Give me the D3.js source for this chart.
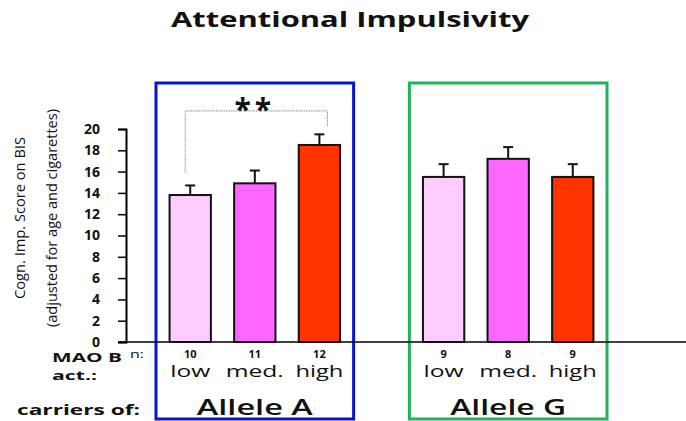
<!DOCTYPE html>
<html>
<head>
<meta charset="utf-8">
<script src="https://cdn.jsdelivr.net/npm/d3@7"></script>
<style>
  body { margin: 0; background: #fff; }
  svg { display: block; }
  text { font-family: 'Open Sans', 'DejaVu Sans', sans-serif; fill: #111; }
</style>
</head>
<body>
<div id="chart"></div>
<script>
'use strict'

// valores
const alleles = ['Allele A', 'Allele G']
const activity = ['low', 'med.', 'high']
const meanA = [13.8, 14.9, 18.5]
const errA = [0.9, 1.2, 1.0]
const meanG = [15.5, 17.2, 15.5]
const errG = [1.2, 1.1, 1.2]
const nA = [10, 11, 12]
const nG = [9, 8, 9]
const yTicks = [0, 2, 4, 6, 8, 10, 12, 14, 16, 18, 20]
const barColors = ['#ffccff', '#ff66ff', '#ff3300']
const boxColors = ['#0a14c8', '#1fb35a']

const rows = []
alleles.forEach((allele, gi) => {
  const means = gi === 0 ? meanA : meanG
  const errs = gi === 0 ? errA : errG
  const ns = gi === 0 ? nA : nG
  activity.forEach((act, i) => {
    rows.push({ allele, act, mean: means[i], err: errs[i], n: ns[i], color: barColors[i] })
  })
})

const width = 686
const height = 421

const svg = d3.select('#chart')
  .append('svg')
  .attr('width', width)
  .attr('height', height)

const yScale = d3.scaleLinear()
  .domain([0, 20])
  .range([342, 129])

const xOuter = d3.scaleBand()
  .domain(alleles)
  .range([156, 607])
  .paddingInner(0.22)
  .paddingOuter(0)

const xInner = d3.scaleBand()
  .domain(activity)
  .range([0, xOuter.bandwidth()])
  .paddingInner(0.36)
  .paddingOuter(0.21)

const xPos = d => xOuter(d.allele) + xInner(d.act)
const xMid = d => xPos(d) + xInner.bandwidth() / 2

// titulo
svg.append('text')
  .attr('x', 350)
  .attr('y', 27)
  .attr('text-anchor', 'middle')
  .attr('font-size', 21)
  .attr('font-weight', 'bold')
  .attr('textLength', 358)
  .attr('lengthAdjust', 'spacingAndGlyphs')
  .text('Attentional Impulsivity')

// caixas dos alelos
svg.selectAll('.box')
  .data(alleles)
  .enter()
  .append('rect')
  .attr('x', d => xOuter(d))
  .attr('y', 83)
  .attr('width', xOuter.bandwidth())
  .attr('height', 336)
  .attr('fill', 'none')
  .attr('stroke', (d, i) => boxColors[i])
  .attr('stroke-width', 3)

// eixo y
const yAxis = svg.append('g')
  .attr('transform', 'translate(126, 0)')
  .call(d3.axisLeft(yScale).tickValues(yTicks).tickSize(8).tickPadding(18))
yAxis.select('.domain').attr('stroke', '#000').attr('stroke-width', 2)
yAxis.selectAll('.tick line').attr('stroke', '#000').attr('stroke-width', 1.5)
yAxis.selectAll('.tick text')
  .attr('font-size', 14)
  .attr('font-weight', 'bold')
  .attr('font-family', "'Open Sans', sans-serif")
  .attr('fill', '#222')

// linha base
svg.append('line')
  .attr('x1', 118)
  .attr('x2', width)
  .attr('y1', yScale(0))
  .attr('y2', yScale(0))
  .attr('stroke', '#000')
  .attr('stroke-width', 1.5)

// rotulo do eixo y
const yLabel = [
  { text: 'Cogn. Imp. Score on  BIS', x: 25, len: 162, size: 14 },
  { text: '(adjusted for age and cigarettes)', x: 57, len: 218, size: 15 }
]
svg.selectAll('.ylab')
  .data(yLabel)
  .enter()
  .append('text')
  .attr('transform', d => `translate(${d.x}, 218) rotate(-90)`)
  .attr('text-anchor', 'middle')
  .attr('font-size', d => d.size)
  .attr('font-family', "'Liberation Sans Narrow', 'Open Sans', sans-serif")
  .attr('textLength', d => d.len)
  .attr('lengthAdjust', 'spacingAndGlyphs')
  .text(d => d.text)

// barras
svg.selectAll('.bar')
  .data(rows)
  .enter()
  .append('rect')
  .attr('x', xPos)
  .attr('y', d => yScale(d.mean))
  .attr('width', xInner.bandwidth())
  .attr('height', d => yScale(0) - yScale(d.mean))
  .attr('fill', d => d.color)
  .attr('stroke', '#111')
  .attr('stroke-width', 2)

// barras de erro
svg.selectAll('.err')
  .data(rows)
  .enter()
  .append('line')
  .attr('x1', xMid)
  .attr('x2', xMid)
  .attr('y1', d => yScale(d.mean))
  .attr('y2', d => yScale(d.mean + d.err))
  .attr('stroke', '#111')
  .attr('stroke-width', 2)

svg.selectAll('.cap')
  .data(rows)
  .enter()
  .append('line')
  .attr('x1', d => xMid(d) - 5)
  .attr('x2', d => xMid(d) + 5)
  .attr('y1', d => yScale(d.mean + d.err))
  .attr('y2', d => yScale(d.mean + d.err))
  .attr('stroke', '#111')
  .attr('stroke-width', 2)

// colchete de significancia
const lowA = rows[0]
const highA = rows[2]
const bx1 = xMid(lowA) - 5
const bx2 = xMid(highA) + 8
svg.append('path')
  .attr('d', `M${bx1},${yScale(15.9)}V${yScale(21.7)}H${bx2}V${yScale(20.2)}`)
  .attr('fill', 'none')
  .attr('stroke', '#888')
  .attr('stroke-width', 1)
  .attr('stroke-dasharray', '1.5,1')
svg.append('text')
  .attr('x', (xMid(lowA) + xMid(highA)) / 2)
  .attr('y', 120)
  .attr('text-anchor', 'middle')
  .attr('font-size', 30)
  .attr('font-weight', 'bold')
  .attr('font-family', "'DejaVu Sans', sans-serif")
  .attr('letter-spacing', 4)
  .text('**')

// n e atividade
svg.selectAll('.nlab')
  .data(rows)
  .enter()
  .append('text')
  .attr('x', xMid)
  .attr('y', 358)
  .attr('text-anchor', 'middle')
  .attr('font-size', 11)
  .attr('font-weight', 'bold')
  .text(d => d.n)

svg.selectAll('.actlab')
  .data(rows)
  .enter()
  .append('text')
  .attr('x', xMid)
  .attr('y', 377)
  .attr('text-anchor', 'middle')
  .attr('font-size', 16)
  .attr('textLength', d => d.act === 'low' ? 40 : d.act === 'med.' ? 58 : 48)
  .attr('lengthAdjust', 'spacingAndGlyphs')
  .text(d => d.act)

svg.selectAll('.allelelab')
  .data(alleles)
  .enter()
  .append('text')
  .attr('x', d => xOuter(d) + xOuter.bandwidth() / 2)
  .attr('y', 415)
  .attr('text-anchor', 'middle')
  .attr('font-size', 21)
  .attr('font-weight', 600)
  .attr('textLength', 116)
  .attr('lengthAdjust', 'spacingAndGlyphs')
  .text(d => d)

// rotulos da esquerda
const sideLabels = [
  { text: 'MAO B', x: 52, y: 362, size: 13, len: 70 },
  { text: 'n:', x: 130, y: 358, size: 11, len: 14 },
  { text: 'act.:', x: 52, y: 380, size: 13, len: 45 },
  { text: 'carriers of:', x: 17, y: 415, size: 14, len: 123 }
]
svg.selectAll('.side')
  .data(sideLabels)
  .enter()
  .append('text')
  .attr('x', d => d.x)
  .attr('y', d => d.y)
  .attr('font-size', d => d.size)
  .attr('font-weight', d => d.text === 'n:' ? 'normal' : 'bold')
  .attr('font-family', "'DejaVu Sans', sans-serif")
  .attr('textLength', d => d.len)
  .attr('lengthAdjust', 'spacingAndGlyphs')
  .text(d => d.text)
</script>
</body>
</html>
